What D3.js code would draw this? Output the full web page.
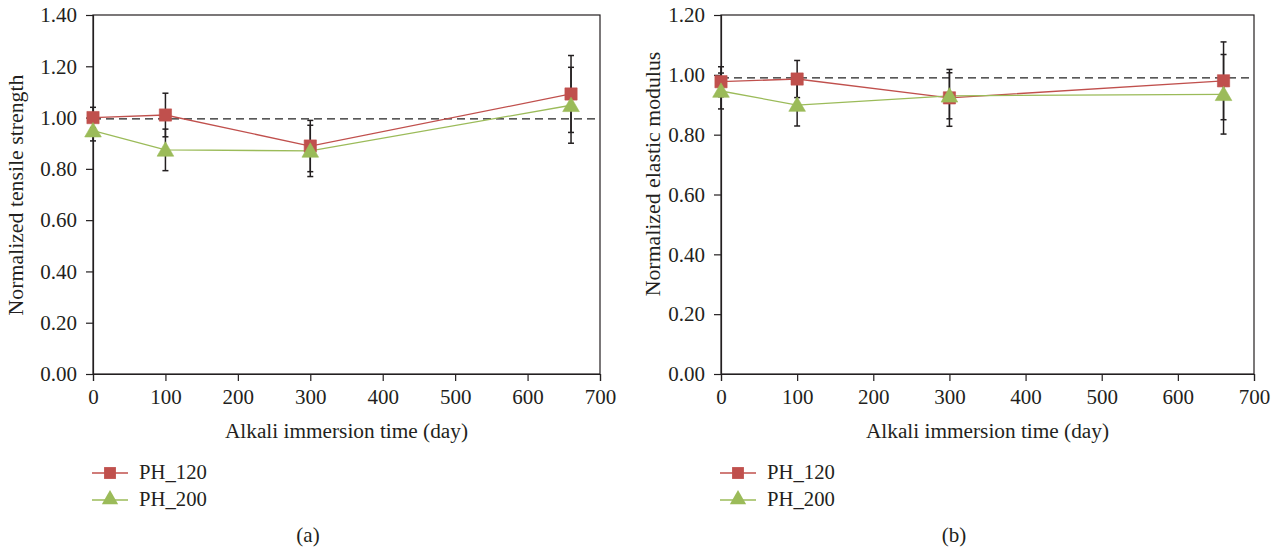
<!DOCTYPE html>
<html><head><meta charset="utf-8">
<script src="https://cdn.jsdelivr.net/npm/d3@7"></script>
<style>
body{margin:0;background:#fff;}
text{font-family:"Liberation Serif","DejaVu Serif",serif;fill:#231f20;}
</style></head>
<body><svg id="c" width="1288" height="554"></svg>
<script>
const days = [0, 100, 300, 660];
const seriesNames = ["PH_120", "PH_200"];
// (a) Normalized tensile strength
const tensile120 = [1.00, 1.01, 0.889, 1.092];
const tensile120Err = [0.04, 0.085, 0.10, 0.15];
const tensile200 = [0.949, 0.874, 0.870, 1.048];
const tensile200Err = [0.04, 0.081, 0.10, 0.148];
const tensileRef = 0.995;
const tensileTicks = [0, 0.2, 0.4, 0.6, 0.8, 1.0, 1.2, 1.4];
// (b) Normalized elastic modulus
const modulus120 = [0.977, 0.986, 0.923, 0.980];
const modulus120Err = [0.05, 0.062, 0.095, 0.13];
const modulus200 = [0.946, 0.899, 0.930, 0.935];
const modulus200Err = [0.06, 0.07, 0.077, 0.133];
const modulusRef = 0.99;
const modulusTicks = [0, 0.2, 0.4, 0.6, 0.8, 1.0, 1.2];
const xTicks = [0, 100, 200, 300, 400, 500, 600, 700];
const colors = ["#c0504d", "#9bbb59"];

const svg = d3.select("#c");

function panel(opt){
  const g = svg.append("g");
  const x = d3.scaleLinear().domain([0, 700]).range([opt.x0, opt.x1]);
  const y = d3.scaleLinear().domain([0, opt.ymax]).range([opt.y0, opt.y1]);
  g.append("rect").attr("x", opt.x0).attr("y", opt.y1).attr("width", opt.x1-opt.x0).attr("height", opt.y0-opt.y1)
    .attr("fill","none").attr("stroke","#231f20").attr("stroke-width",1.2);
  const ya = g.append("g").attr("transform",`translate(${opt.x0},0)`)
    .call(d3.axisLeft(y).tickValues(opt.yTicks).tickFormat(d3.format(".2f")).tickSize(7).tickPadding(9));
  const xa = g.append("g").attr("transform",`translate(0,${opt.y0})`)
    .call(d3.axisBottom(x).tickValues(xTicks).tickFormat(d3.format("d")).tickSize(7).tickPadding(8));
  [ya, xa].forEach(a=>{
    a.select(".domain").attr("stroke","#231f20").attr("stroke-width",1.2);
    a.selectAll(".tick line").attr("stroke","#231f20").attr("stroke-width",1.2);
    a.selectAll("text").attr("font-size",21).attr("font-family","Liberation Serif").attr("fill","#231f20");
  });
  g.append("line").attr("x1", opt.x0).attr("x2", opt.x1).attr("y1", y(opt.ref)).attr("y2", y(opt.ref))
    .attr("stroke","#222").attr("stroke-width",1.4).attr("stroke-dasharray","8,5");
  g.append("text").attr("x",(opt.x0+opt.x1)/2).attr("y",opt.y0+64).attr("text-anchor","middle")
    .attr("font-size",21.3).text("Alkali immersion time (day)");
  g.append("text").attr("transform",`translate(${opt.yTitleX},${opt.yTitleY}) rotate(-90)`)
    .attr("text-anchor","middle").attr("font-size",21.8).text(opt.ylabel);
  const line = d3.line().x((d,i)=>x(days[i])).y(d=>y(d));
  opt.series.forEach((s,k)=>{
    g.append("path").datum(s.v).attr("d",line).attr("fill","none").attr("stroke",colors[k]).attr("stroke-width",1.3);
  });
  opt.series.forEach((s,k)=>{
    s.v.forEach((v,i)=>{
      const cx = x(days[i]), lo = y(v - s.e[i]), hi = y(v + s.e[i]);
      g.append("line").attr("x1",cx).attr("x2",cx).attr("y1",lo).attr("y2",hi).attr("stroke","#231f20").attr("stroke-width",1.5);
      [lo,hi].forEach(yy=>g.append("line").attr("x1",cx-3).attr("x2",cx+3).attr("y1",yy).attr("y2",yy).attr("stroke","#231f20").attr("stroke-width",1.5));
    });
  });
  opt.series.forEach((s,k)=>{
    const sym = d3.symbol().type(k===0?d3.symbolSquare:d3.symbolTriangle).size(k===0?150:120);
    s.v.forEach((v,i)=>{
      g.append("path").attr("d",sym).attr("transform",`translate(${x(days[i])},${y(v)+(k===1?1.5:0)})`)
        .attr("fill",colors[k]).attr("stroke",colors[k]).attr("stroke-opacity",0.6).attr("stroke-width",1);
    });
  });
  seriesNames.forEach((n,k)=>{
    const ly = 473 + k*27, lx = opt.x0 - 1;
    g.append("line").attr("x1",lx).attr("x2",lx+36).attr("y1",ly).attr("y2",ly).attr("stroke",colors[k]).attr("stroke-width",1.3);
    const sym = d3.symbol().type(k===0?d3.symbolSquare:d3.symbolTriangle).size(k===0?140:115);
    g.append("path").attr("d",sym).attr("transform",`translate(${lx+18},${ly+(k===1?-0.5:0)})`).attr("fill",colors[k]);
    g.append("text").attr("x",lx+47).attr("y",ly+6).attr("font-size",20.7).text(n);
  });
  g.append("text").attr("x",opt.capX).attr("y",542).attr("text-anchor","middle").attr("font-size",21).text(opt.cap);
}

panel({x0:93, x1:600, y0:374, y1:15, ymax:1.4, yTicks:tensileTicks, ref:tensileRef,
  ylabel:"Normalized tensile strength", cap:"(a)", capX:308, yTitleX:23, yTitleY:195,
  series:[{v:tensile120,e:tensile120Err},{v:tensile200,e:tensile200Err}]});
panel({x0:721, x1:1254, y0:374, y1:15, ymax:1.2, yTicks:modulusTicks, ref:modulusRef,
  ylabel:"Normalized elastic modulus", cap:"(b)", capX:954, yTitleX:660, yTitleY:174,
  series:[{v:modulus120,e:modulus120Err},{v:modulus200,e:modulus200Err}]});
</script></body></html>
